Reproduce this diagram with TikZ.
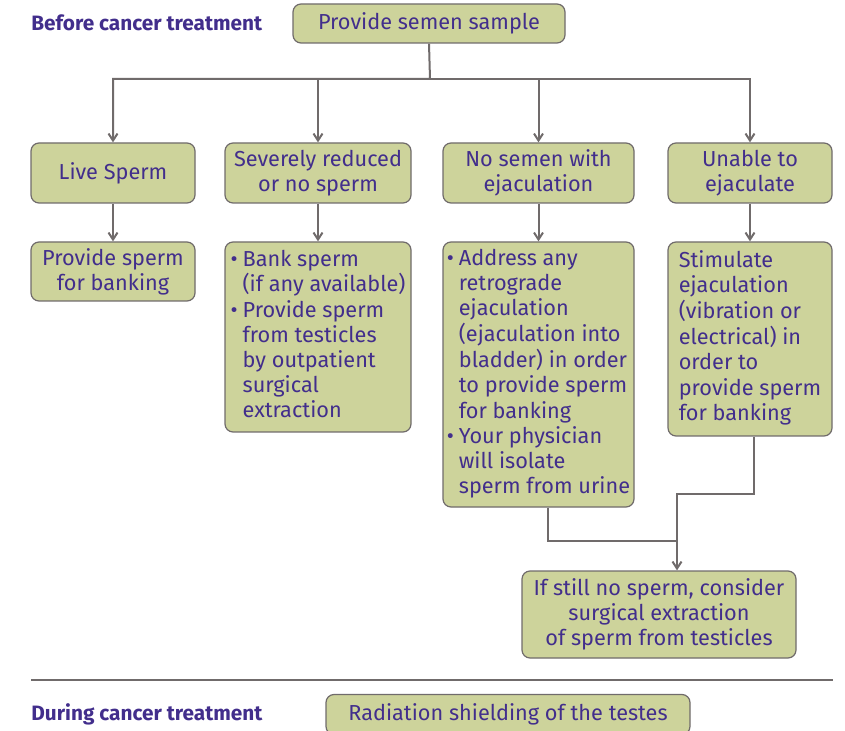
\documentclass[tikz,border=0pt]{standalone}
\usepackage{fontspec}
\setmainfont{Fira Sans}
\usepackage{tikz}
\usetikzlibrary{arrows.meta, positioning}

\definecolor{boxgreen}{RGB}{205,211,155}
\definecolor{linegray}{RGB}{112,107,107}
\definecolor{textpurple}{RGB}{66,46,140}

\begin{document}
\begin{tikzpicture}[x=0.5pt, y=-0.5pt,
    stepbox/.style={draw=linegray, fill=boxgreen, line width=0.6pt, rounded corners=4pt,
      text=textpurple, align=center, inner sep=0pt, font=\fontsize{10.85}{12.6}\selectfont},
    phase/.style={text=textpurple, font=\fontsize{10.4}{12}\selectfont\bfseries, anchor=west, inner sep=0pt},
    link/.style={draw=linegray, line width=1pt, -{Straight Barb[length=3.5pt, width=4.5pt]}},
    rule/.style={draw=linegray, line width=1pt}]
  \useasboundingbox (0,0) rectangle (845,731);

  % before treatment
  \node (before) [phase] at (31,23) {Before cancer treatment};
  \node (semen) [stepbox, minimum width=136pt, minimum height=19.5pt] at (429,23.5) {Provide semen sample};

  \node (live)    [stepbox, minimum width=82pt,   minimum height=30pt] at (113,173)   {Live Sperm};
  \node (reduced) [stepbox, minimum width=93pt,   minimum height=30pt] at (318,173)   {Severely reduced\\or no sperm};
  \node (nosemen) [stepbox, minimum width=95.5pt, minimum height=30pt] at (538.5,173) {No semen with\\ejaculation};
  \node (unable)  [stepbox, minimum width=82pt,   minimum height=30pt] at (750,173)   {Unable to\\ejaculate};

  \node (bank)      [stepbox, minimum width=82pt,   minimum height=29.5pt] at (113,271.5) {Provide sperm\\for banking};
  \node (extract)   [stepbox, minimum width=93pt,   minimum height=95pt]   at (318,337) {%
    \begin{tabular}{@{}l@{\hspace{2.5pt}}l@{}}
      \textbullet & Bank sperm\\
                  & (if any available)\\
      \textbullet & Provide sperm\\
                  & from testicles\\
                  & by outpatient\\
                  & surgical\\
                  & extraction
    \end{tabular}};
  \node (retro)     [stepbox, minimum width=95.5pt, minimum height=132.5pt] at (538.5,374.5) {%
    \begin{tabular}{@{}l@{\hspace{2.5pt}}l@{}}
      \textbullet & Address any\\
                  & retrograde\\
                  & ejaculation\\
                  & (ejaculation into\\
                  & bladder) in order\\
                  & to provide sperm\\
                  & for banking\\
      \textbullet & Your physician\\
                  & will isolate\\
                  & sperm from urine
    \end{tabular}};
  \node (stimulate) [stepbox, minimum width=82pt,   minimum height=97pt]   at (750,339) {%
    \begin{tabular}{@{}l@{}}
      Stimulate\\ ejaculation\\ (vibration or\\ electrical) in\\ order to\\ provide sperm\\ for banking
    \end{tabular}};

  \node (still) [stepbox, minimum width=137pt, minimum height=43.5pt] at (659,614.5)
    {If still no sperm, consider\\surgical extraction\\of sperm from testicles};

  \coordinate (bus)  at (430,79);
  \coordinate (kink) at (677,494);
  \coordinate (join) at (677,541);

  \draw [link] (semen.south) -- (bus) -| (live.north);
  \draw [link] (bus) -| (reduced.north);
  \draw [link] (bus) -| (nosemen.north);
  \draw [link] (bus) -| (unable.north);

  \path [link]
      (live) edge (bank)
      (reduced) edge (extract)
      (nosemen) edge (retro)
      (unable) edge (stimulate)
      ;

  \draw [rule] ([xshift=4.75pt]retro.south) |- (join);
  \draw [link] ([xshift=2pt]stimulate.south) |- (kink) -- (kink |- still.north);

  % during treatment
  \draw [rule] (31,680) -- (833,680);
  \node (during) [phase] at (31,714) {During cancer treatment};
  \node (shield) [stepbox, minimum width=182pt, minimum height=20pt] at (508,714.5) {Radiation shielding of the testes};
\end{tikzpicture}
\end{document}
